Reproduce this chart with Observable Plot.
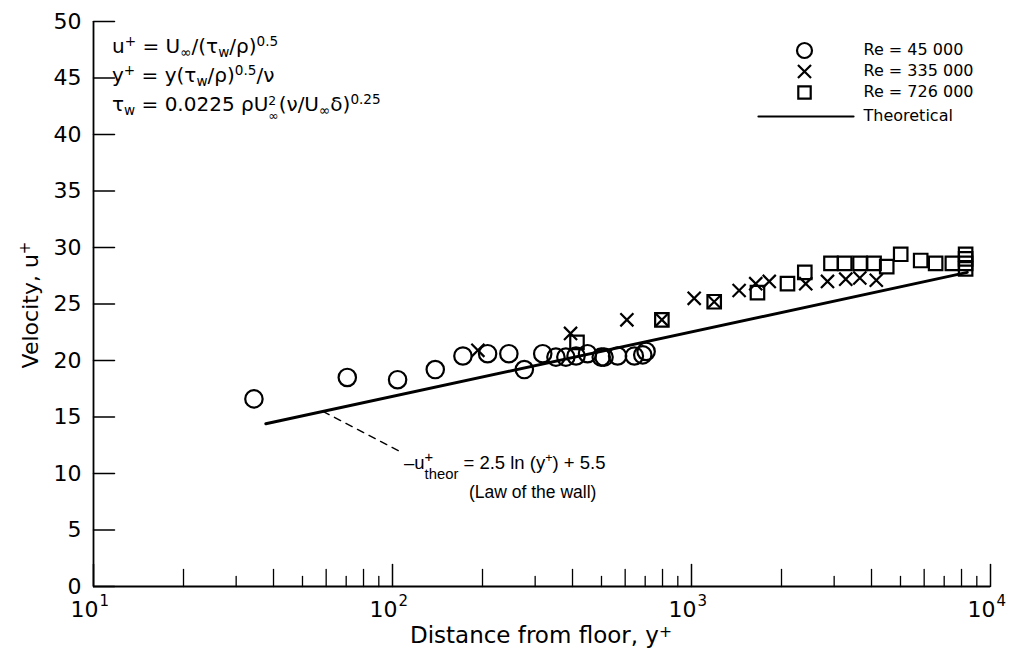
<!DOCTYPE html>
<html><head><meta charset="utf-8">
<script src="https://cdn.jsdelivr.net/npm/d3@7"></script>
<script src="https://cdn.jsdelivr.net/npm/@observablehq/plot@0.6"></script>
<style>
body{margin:0;background:#fff;}
#wrap{position:relative;width:1011px;height:651px;font-family:"DejaVu Sans",Arial,sans-serif;color:#000;overflow:hidden;}
#wrap svg{position:absolute;left:0;top:0;}
.t{position:absolute;white-space:nowrap;font-size:20px;line-height:1;}
.sup{font-size:0.68em;position:relative;top:-0.55em;}
.sub{font-size:0.68em;position:relative;top:0.3em;}
.ss{display:inline-flex;flex-direction:column;vertical-align:0.45em;font-size:0.62em;line-height:1.2;}
.ann{font-family:"Liberation Sans",Arial,sans-serif;}
.ann .ss{font-size:0.8em;vertical-align:0.45em;line-height:1.18;}
.xt .sup{top:-0.38em;}
</style></head><body><div id="wrap"></div>
<script>
// Re = 45 000 (circles)
const circleX = [34.4, 70.6, 104, 139, 172, 208, 245, 276, 318, 352, 380, 411, 449, 499, 510, 566, 644, 687, 705];
const circleY = [16.6, 18.5, 18.3, 19.2, 20.4, 20.6, 20.6, 19.2, 20.6, 20.3, 20.3, 20.4, 20.6, 20.3, 20.3, 20.4, 20.4, 20.5, 20.8];
// Re = 335 000 (crosses)
const crossX = [193, 394, 608, 796, 1021, 1191, 1443, 1640, 1820, 2410, 2850, 3280, 3655, 4150];
const crossY = [20.9, 22.4, 23.6, 23.6, 25.5, 25.2, 26.2, 26.8, 27.0, 26.8, 27.0, 27.2, 27.3, 27.1];
// Re = 726 000 (squares)
const squareX = [414, 796, 1191, 1662, 2094, 2393, 2927, 3253, 3662, 4079, 4497, 5008, 5841, 6554, 7454, 8256, 8256, 8256, 8256];
const squareY = [21.6, 23.6, 25.2, 26.0, 26.8, 27.8, 28.6, 28.6, 28.6, 28.6, 28.3, 29.4, 28.85, 28.6, 28.6, 29.4, 29.0, 28.6, 28.1];
// Theoretical law of the wall (end points)
const theoX = [37.7, 8360];
const theoY = [14.4, 27.8];
// dashed leader line of the annotation
const leaderX = [58.5, 105];
const leaderY = [15.5, 12.0];
// axes
const yTicks = [0, 5, 10, 15, 20, 25, 30, 35, 40, 45, 50];
const yTickLabels = ["0", "5", "10", "15", "20", "25", "30", "35", "40", "45", "50"];
const xMajor = [10, 100, 1000, 10000];
const xMajorExp = ["1", "2", "3", "4"];
const xMinorLong = [20, 40, 60, 80, 200, 400, 600, 800, 2000, 4000, 6000, 8000];
const xMinorShort = [30, 50, 70, 90, 300, 500, 700, 900, 3000, 5000, 7000, 9000];
const legendLabels = ["Re = 45 000", "Re = 335 000", "Re = 726 000", "Theoretical"];

const circles = circleX.map((x, i) => ({x, y: circleY[i]}));
const crosses = crossX.map((x, i) => ({x, y: crossY[i]}));
const squares = squareX.map((x, i) => ({x, y: squareY[i]}));
const theo = theoX.map((x, i) => ({x, y: theoY[i]}));
const leader = leaderX.map((x, i) => ({x, y: leaderY[i]}));

const tickShape = {draw(ctx, l) { ctx.moveTo(0, 0); ctx.lineTo(0, -l); }};
const FONT = '"DejaVu Sans", Arial, sans-serif';
const k = "black";
const legX = 711, legTextX = 770, legY = [29, 50, 71, 95];

const plot = Plot.plot({
  width: 1011,
  height: 651,
  marginLeft: 93,
  marginRight: 21,
  marginTop: 21,
  marginBottom: 65,
  style: {fontFamily: FONT, background: "white", color: "black"},
  x: {type: "log", domain: [10, 10000], axis: null},
  y: {domain: [0, 50], axis: null},
  marks: [
    // axis lines
    Plot.ruleX([10], {y1: 0, y2: 50, stroke: k, strokeWidth: 1.8}),
    Plot.ruleY([0], {x1: 10, x2: 10000, stroke: k, strokeWidth: 1.8}),
    // y ticks (inward)
    Plot.vector(yTicks, {x: () => 10, y: d => d, length: 21, rotate: 90, anchor: "start", shape: tickShape, stroke: k, strokeWidth: 1.5}),
    Plot.text(yTicks, {x: () => 10, y: d => d, text: (d, i) => yTickLabels[i], textAnchor: "end", dx: -12, fontSize: 22, fill: k}),
    // x ticks (inward)
    Plot.vector(xMajor, {x: d => d, y: () => 0, length: 22, anchor: "start", shape: tickShape, stroke: k, strokeWidth: 1.5}),
    Plot.vector(xMinorLong, {x: d => d, y: () => 0, length: 17, anchor: "start", shape: tickShape, stroke: k, strokeWidth: 1.3}),
    Plot.vector(xMinorShort, {x: d => d, y: () => 0, length: 10, anchor: "start", shape: tickShape, stroke: k, strokeWidth: 1.3}),
    Plot.text(xMajor, {x: d => d, y: () => 0, text: () => "10", textAnchor: "end", lineAnchor: "bottom", dx: 5, dy: 30, fontSize: 22, fill: k}),
    Plot.text(xMajor, {x: d => d, y: () => 0, text: (d, i) => xMajorExp[i], textAnchor: "start", lineAnchor: "bottom", dx: 6, dy: 19, fontSize: 15, fill: k}),
    // theoretical line & leader
    Plot.line(theo, {x: "x", y: "y", stroke: k, strokeWidth: 3}),
    Plot.line(leader, {x: "x", y: "y", stroke: k, strokeWidth: 1.4, strokeDasharray: "7,6"}),
    // data
    Plot.dot(circles, {x: "x", y: "y", r: 8.7, stroke: k, strokeWidth: 2.2, fill: "none"}),
    Plot.dot(crosses, {x: "x", y: "y", r: 6, symbol: "times", stroke: k, strokeWidth: 2.2}),
    Plot.dot(squares, {x: "x", y: "y", r: 7.6, symbol: "square", stroke: k, strokeWidth: 2.2, fill: "none"}),
    // legend
    Plot.dot([legendLabels[0]], {frameAnchor: "top-left", dx: legX, dy: legY[0], r: 7.5, stroke: k, strokeWidth: 2.2, fill: "none"}),
    Plot.dot([legendLabels[1]], {frameAnchor: "top-left", dx: legX, dy: legY[1], r: 6, symbol: "times", stroke: k, strokeWidth: 2.2}),
    Plot.dot([legendLabels[2]], {frameAnchor: "top-left", dx: legX, dy: legY[2], r: 7, symbol: "square", stroke: k, strokeWidth: 2.2, fill: "none"}),
    Plot.vector([legendLabels[3]], {frameAnchor: "top-left", dx: 665, dy: legY[3], length: 95, rotate: 90, anchor: "start", shape: tickShape, stroke: k, strokeWidth: 2.2}),
    ...legendLabels.map((lab, i) => Plot.text([lab], {frameAnchor: "top-left", lineAnchor: "middle", dx: legTextX, dy: legY[i] - 1, text: d => d, textAnchor: "start", fontSize: 16, fill: k}))
  ]
});
const wrap = document.getElementById("wrap");
wrap.appendChild(plot);

function addText(html, left, top, extra, cls) {
  const d = document.createElement("div");
  d.className = "t" + (cls ? " " + cls : "");
  d.innerHTML = html;
  d.style.left = left + "px";
  d.style.top = top + "px";
  if (extra) Object.assign(d.style, extra);
  wrap.appendChild(d);
  return d;
}
// formulas
addText('u<span class="sup">+</span> = U<span class="sub">∞</span>/(τ<span class="sub">w</span>/ρ)<span class="sup">0.5</span>', 112, 36);
addText('y<span class="sup">+</span> = y(τ<span class="sub">w</span>/ρ)<span class="sup">0.5</span>/ν', 112, 65);
addText('τ<span class="sub">w</span> = 0.0225 ρU<span class="ss"><span>2</span><span>∞</span></span>(ν/U<span class="sub">∞</span>δ)<span class="sup">0.25</span>', 112, 94);
// annotation
addText('–u<span class="ss"><span>+</span><span>theor</span></span> = 2.5 ln (y<span class="sup">+</span>) + 5.5', 404, 449, {fontSize: "18.5px"}, "ann");
addText('(Law of the wall)', 469, 484, {fontSize: "17.5px"}, "ann");
// axis titles
addText('Distance from floor, y<span class="sup">+</span>', 541, 624, {fontSize: "23px", transform: "translateX(-50%)"}, "xt");
addText('Velocity, u<span class="sup">+</span>', 31, 305, {fontSize: "22px", transform: "translate(-50%,-50%) rotate(-90deg)"});
</script></body></html>
